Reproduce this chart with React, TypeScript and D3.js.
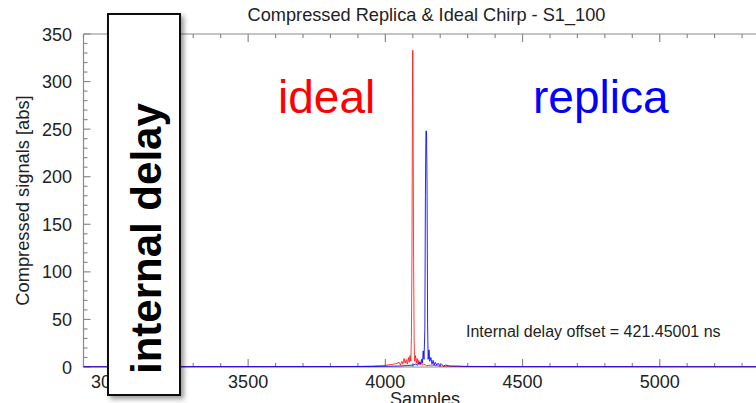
import React from "react";
import * as d3 from "d3";

// Compressed pulse magnitudes (sample index, |signal|)
const idealSamples = [2900, 3800, 3900, 3950, 3990, 4020, 4040, 4050, 4055, 4060, 4064, 4068, 4072, 4076, 4080, 4084, 4087, 4090, 4093, 4095, 4097, 4099, 4100, 4101, 4103, 4105, 4107, 4110, 4113, 4116, 4119, 4122, 4126, 4130, 4135, 4140, 4150, 4170, 4200, 4250, 4400, 5400];
const idealValues = [0.3, 0.4, 0.6, 1, 1.5, 2.5, 3.5, 5, 2, 6, 3, 9, 4, 8, 3, 10, 5, 12, 6, 31, 120, 290, 333, 290, 110, 28, 6, 12, 4, 9, 3, 7, 2, 5, 2, 3, 1.5, 2, 1, 0.6, 0.4, 0.3];

const replicaSamples = [2900, 3950, 4050, 4080, 4100, 4110, 4118, 4124, 4128, 4132, 4135, 4138, 4141, 4144, 4146, 4148, 4150, 4152, 4154, 4156, 4159, 4162, 4166, 4170, 4174, 4178, 4182, 4187, 4192, 4198, 4205, 4212, 4220, 4235, 4260, 4300, 4500, 5400];
const replicaValues = [0.3, 0.5, 1, 1.5, 2, 3, 2, 5, 3, 8, 4, 17, 8, 40, 180, 248, 248, 190, 45, 8, 18, 6, 10, 3, 7, 2, 5, 2, 4, 1.5, 3, 1, 2, 1, 1, 0.6, 0.4, 0.3];

const xDomain = [2900, 5400];
const yDomain = [0, 350];
const xMajorTicks = [3000, 3500, 4000, 4500, 5000];
const yMajorTicks = [0, 50, 100, 150, 200, 250, 300, 350];

const title = "Compressed Replica & Ideal Chirp - S1_100";
const xTitle = "Samples";
const yTitle = "Compressed signals [abs]";
const delayNote = "Internal delay offset = 421.45001 ns";

const W = 756;
const H = 403;
const FONT = "'Liberation Sans', Arial, Helvetica, sans-serif";
const AXIS = "#8a8a8a";

export default function App() {
  const x = d3.scaleLinear().domain(xDomain).range([83.5, 769.5]);
  const y = d3.scaleLinear().domain(yDomain).range([367, 34]);

  const line = d3
    .line<[number, number]>()
    .x((d) => x(d[0]))
    .y((d) => y(d[1]));

  const idealPts = idealSamples.map((s, i) => [s, idealValues[i]] as [number, number]);
  const replicaPts = replicaSamples.map((s, i) => [s, replicaValues[i]] as [number, number]);

  const xMinor = d3.range(xDomain[0], xDomain[1] + 1, 100);
  const yMinor = d3.range(yDomain[0], yDomain[1] + 1, 10);
  const x0 = x(xDomain[0]);
  const x1 = x(xDomain[1]);
  const yTop = y(yDomain[1]);
  const yBot = y(yDomain[0]);

  return (
    <div style={{ position: "absolute", left: 0, top: 0 }}>
      <svg width={W} height={H} style={{ display: "block", background: "#fff" }}>
        <defs>
          <filter id="boxShadow" x="-30%" y="-10%" width="160%" height="120%">
            <feDropShadow dx="3" dy="3" stdDeviation="2.5" floodColor="#000" floodOpacity="0.4" />
          </filter>
        </defs>

        <text x={426.5} y={21} textAnchor="middle" fontFamily={FONT} fontSize={18.2} fill="#222">
          {title}
        </text>

        {/* frame */}
        <g stroke={AXIS} strokeWidth={1.2} fill="none">
          <line x1={x0} x2={x0} y1={yTop} y2={yBot} />
          <line x1={x0} x2={x1} y1={yTop} y2={yTop} />
          <line x1={x0} x2={x1} y1={yBot} y2={yBot} />
          <line x1={x1} x2={x1} y1={yTop} y2={yBot} />
          {xMinor.map((v) => {
            const major = v % 500 === 0;
            const len = major ? 8 : 4;
            return (
              <g key={"xt" + v}>
                <line x1={x(v)} x2={x(v)} y1={yTop} y2={yTop + len} />
                <line x1={x(v)} x2={x(v)} y1={yBot} y2={yBot - len} />
              </g>
            );
          })}
          {yMinor.map((v) => {
            const major = v % 50 === 0;
            const len = major ? 7 : 4;
            return <line key={"yt" + v} x1={x0} x2={x0 + len} y1={y(v)} y2={y(v)} />;
          })}
        </g>

        {xMajorTicks.map((v) => (
          <text key={"xl" + v} x={x(v)} y={388} textAnchor="middle" fontFamily={FONT} fontSize={18} fill="#222">
            {v}
          </text>
        ))}
        {yMajorTicks.map((v) => (
          <text key={"yl" + v} x={72} y={y(v) + 6.5} textAnchor="end" fontFamily={FONT} fontSize={18} fill="#222">
            {v}
          </text>
        ))}

        <text x={425} y={405} textAnchor="middle" fontFamily={FONT} fontSize={18} fill="#222">
          {xTitle}
        </text>
        <text
          transform={`translate(29, 200.5) rotate(-90)`}
          textAnchor="middle"
          fontFamily={FONT}
          fontSize={18.3}
          fill="#222"
        >
          {yTitle}
        </text>

        {/* signals */}
        <path d={line(idealPts) ?? ""} fill="none" stroke="#ff0000" strokeWidth={1} strokeOpacity={0.75} />
        <path d={line(replicaPts) ?? ""} fill="none" stroke="#0000ff" strokeWidth={1} strokeOpacity={0.85} />

        <text x={278} y={113} fontFamily={FONT} fontSize={46} fill="#ff0000">
          ideal
        </text>
        <text x={533} y={113} fontFamily={FONT} fontSize={46} fill="#0000ff">
          replica
        </text>
        <text x={466} y={337} fontFamily={FONT} fontSize={16} fill="#222">
          {delayNote}
        </text>

        {/* callout box */}
        <rect x={108} y={14} width={72} height={381} fill="#fff" stroke="#111" strokeWidth={2} filter="url(#boxShadow)" />
        <text
          transform="translate(161, 374) rotate(-90)"
          fontFamily={FONT}
          fontWeight="bold"
          fontSize={42}
          fill="#000"
        >
          internal delay
        </text>
      </svg>
    </div>
  );
}
